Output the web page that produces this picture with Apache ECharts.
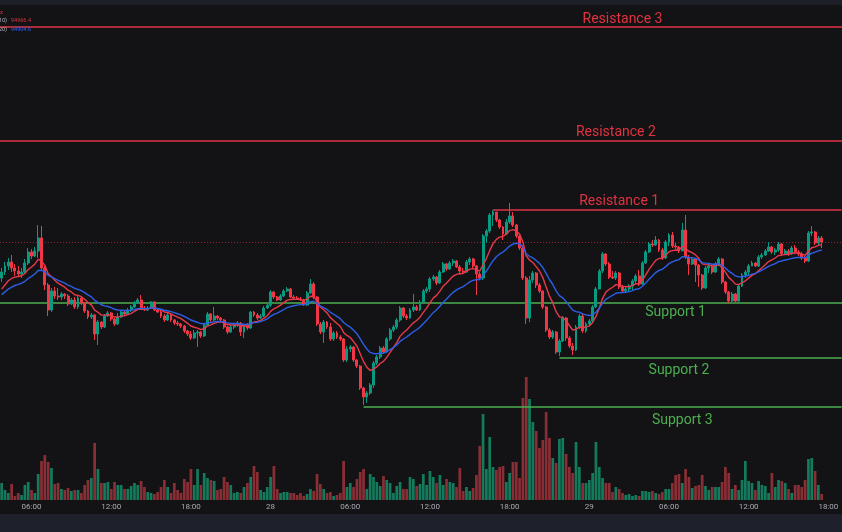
<!DOCTYPE html>
<html><head><meta charset="utf-8">
<script src="https://cdn.jsdelivr.net/npm/echarts/dist/echarts.min.js"></script>
<style>html,body{margin:0;padding:0;background:#131316}#c{width:842px;height:532px}</style>
</head><body><div id="c"></div><script>
// ---------- DATA (15-minute candles, 27 Nov 03:45 onward) ----------
const firstOpen = 94660;
const closes = [
94720,94780,94820,94760,94730,94700,94720,94810,94920,94880,
94930,95060,94760,94590,94340,94530,94480,94470,94500,94480,
94400,94440,94370,94460,94410,94330,94270,94290,94100,94220,
94170,94280,94310,94250,94200,94270,94320,94300,94340,94370,
94410,94440,94360,94340,94360,94420,94340,94320,94280,94240,
94290,94240,94210,94200,94180,94130,94100,94060,94110,94120,
94080,94190,94300,94240,94280,94260,94240,94170,94120,94170,
94190,94210,94120,94190,94160,94320,94290,94260,94280,94360,
94390,94520,94470,94440,94480,94530,94550,94470,94460,94450,
94440,94390,94510,94600,94470,94200,94120,94220,94170,94050,
94110,94070,94050,93840,93950,93970,93840,93780,93560,93470,
93510,93590,93810,93870,93960,93920,94050,94140,94170,94240,
94360,94280,94260,94340,94370,94340,94420,94530,94550,94650,
94670,94610,94720,94800,94750,94810,94830,94770,94730,94720,
94820,94850,94780,94700,94660,95080,95130,95290,95320,95240,
95170,95100,95220,95280,95190,95080,94960,94660,94260,94640,
94710,94590,94530,94370,94140,94070,94120,93920,94030,94260,
94060,93980,93940,94170,94280,94130,94200,94230,94370,94550,
94730,94900,94800,94670,94660,94710,94570,94530,94550,94580,
94630,94680,94600,94810,94920,95000,94990,95040,94940,94860,
95020,95090,94980,94970,94930,95140,94870,94800,94850,94790,
94690,94560,94760,94780,94720,94800,94850,94620,94520,94430,
94500,94430,94580,94690,94720,94780,94810,94780,94870,94890,
94930,94970,94920,94940,95000,94900,94930,94900,94960,94920,
94900,94860,94830,95110,95120,95010,95060,95020];
const highs = [
94760,94820,94860,94890,94800,94780,94760,94850,94960,94950,
94970,95190,95180,94790,94610,94560,94570,94560,94520,94510,
94500,94460,94470,94480,94470,94420,94340,94310,94300,94240,
94230,94300,94330,94320,94260,94310,94340,94330,94360,94390,
94430,94460,94490,94380,94380,94430,94430,94350,94340,94300,
94310,94310,94250,94230,94210,94190,94140,94130,94140,94140,
94130,94210,94320,94310,94370,94290,94270,94250,94180,94190,
94200,94230,94220,94200,94210,94330,94330,94310,94300,94380,
94400,94540,94530,94480,94500,94550,94570,94560,94490,94480,
94470,94450,94530,94650,94620,94480,94220,94240,94230,94210,
94130,94130,94090,94060,93980,93990,93980,93850,93790,93570,
93530,93610,93830,93890,93980,93980,94070,94160,94190,94260,
94380,94370,94300,94360,94500,94390,94440,94550,94570,94670,
94690,94680,94740,94820,94810,94830,94850,94840,94790,94760,
94840,94870,94860,94790,94720,95100,95150,95310,95340,95320,
95250,95180,95250,95410,95320,95200,95090,94990,94680,94680,
94730,94720,94610,94540,94380,94160,94140,94130,94050,94280,
94270,94080,94010,94190,94300,94310,94220,94250,94390,94570,
94750,94920,94910,94820,94730,94730,94720,94590,94570,94600,
94650,94700,94740,94830,94940,95020,95040,95080,95050,94960,
95040,95110,95120,95010,94980,95210,95290,94890,94870,94860,
94800,94700,94780,94800,94790,94820,94870,94860,94630,94530,
94520,94510,94600,94710,94740,94800,94830,94820,94890,94910,
94950,95020,94980,94960,95020,95010,94950,94950,94980,94990,
94940,94920,94880,95130,95180,95130,95080,95080];
const lows = [
94620,94690,94740,94720,94680,94670,94660,94700,94790,94850,
94870,94860,94740,94540,94280,94320,94450,94440,94440,94450,
94380,94390,94350,94350,94390,94310,94250,94250,94040,93990,
94150,94160,94270,94230,94180,94190,94260,94280,94290,94320,
94360,94400,94350,94330,94330,94350,94330,94310,94260,94220,
94230,94220,94190,94180,94160,94110,94080,94040,94050,93970,
94060,94070,94180,94220,94230,94240,94230,94150,94100,94110,
94150,94170,94080,94060,94140,94150,94270,94240,94250,94270,
94350,94370,94450,94430,94430,94470,94520,94460,94450,94440,
94430,94380,94380,94500,94450,94180,94100,94010,94150,94030,
94030,94050,94030,93820,93820,93920,93820,93760,93540,93390,
93410,93490,93560,93790,93850,93900,93910,94030,94120,94150,
94220,94260,94240,94250,94320,94330,94330,94400,94510,94520,
94630,94590,94600,94710,94730,94740,94780,94760,94710,94700,
94710,94790,94760,94490,94640,94640,95010,95110,95180,95220,
95150,95040,95090,95200,95170,95060,94940,94640,94200,94220,
94610,94560,94510,94350,94120,94050,94050,93900,93880,94020,
94030,93960,93890,93930,94150,94110,94110,94180,94220,94360,
94550,94710,94780,94650,94650,94640,94550,94510,94510,94520,
94540,94600,94580,94590,94800,94910,94970,94980,94920,94840,
94850,94980,94960,94950,94910,94930,94850,94690,94790,94620,
94570,94540,94550,94710,94700,94710,94780,94600,94500,94410,
94410,94410,94420,94570,94660,94690,94780,94770,94770,94850,
94880,94920,94900,94890,94920,94880,94890,94880,94890,94900,
94880,94840,94810,94820,95080,94990,94990,94960];
const volumes = [
17,10,7,16,4,7,5,15,18,10,
7,26,39,45,38,32,16,17,11,10,
12,9,10,10,7,15,20,22,57,31,
17,17,18,11,18,15,15,11,11,14,
17,15,19,13,8,7,6,8,13,20,
13,7,17,10,7,21,18,31,15,31,
15,27,22,20,19,10,11,23,18,15,
7,8,7,13,17,23,34,28,10,8,
13,23,34,11,7,8,8,7,7,5,
7,4,6,11,9,26,16,11,7,8,
4,5,7,39,13,17,13,21,28,31,
11,26,23,18,14,24,20,17,7,14,
18,11,11,23,21,14,16,26,15,29,
23,17,25,15,21,18,17,13,32,9,
13,9,12,25,54,86,31,63,33,30,
33,34,18,27,38,38,22,102,123,101,
78,69,52,60,88,62,42,37,61,62,
46,33,27,58,33,17,17,20,27,58,
33,22,17,17,8,13,11,7,5,6,
4,5,4,9,9,8,9,7,6,8,
11,11,17,25,26,17,31,23,12,14,
15,25,14,10,13,13,13,18,33,27,
11,15,10,20,39,19,17,10,19,15,
14,7,27,13,20,19,17,11,7,15,
15,13,20,41,42,29,15,6];
const emaFastPeriod = 10, emaSlowPeriod = 20;
const emaFastPrev = 94510, emaSlowPrev = 94470;   // indicator values before the first visible candle
const legendFast = '94966.4', legendSlow = '94904.6';
const levelNames  = ['Resistance 3','Resistance 2','Resistance 1','Support 1','Support 2','Support 3'];
const levelPrices = [97170, 96030, 95340, 94410, 93860, 93370];
const levelStart  = [0, 0, 148, 0, 168, 109];   // candle where each level begins (0 = whole range)
const startDay = 27, startMinute = 3*60+45, stepMinutes = 15, slotCount = 254;

// ---------- BUILD ----------
const categories = [];
for (let i = 0; i < slotCount; i++) {
  const m = startMinute + i*stepMinutes;
  const d = startDay + Math.floor(m/1440), mm = m % 1440;
  const hh = Math.floor(mm/60), mi = mm % 60;
  categories.push(d + ' ' + String(hh).padStart(2,'0') + ':' + String(mi).padStart(2,'0'));
}
const opens = closes.map((c,i) => i === 0 ? firstOpen : closes[i-1]);
const ohlc = closes.map((c,i) => [opens[i], c, lows[i], highs[i]]);
function ema(src, period, prev) {
  const a = 2/(period+1); let e = prev;
  return src.map(v => { e = e + a*(v-e); return +e.toFixed(1); });
}
const emaFast = ema(closes, emaFastPeriod, emaFastPrev);
const emaSlow = ema(closes, emaSlowPeriod, emaSlowPrev);
const UP = '#089981', DOWN = '#f23645';
const volData = volumes.map((v,i) => ({ value: v, itemStyle: { color: closes[i] >= opens[i] ? '#137a5b' : '#8a2e35' } }));

const RES = '#dc3444', SUP = '#4caf50';
const labelAt = [187, 185, 186, 203, 204, 205];
const labelDy = [-8, -9, -9, 9, 12, 13];
const lastIdx = slotCount - 1;
const levelLines = levelNames.map((n,i) => {
  const ls = { color: i < 3 ? RES : SUP, width: 1.5, type: 'solid' };
  if (levelStart[i] === 0) return { yAxis: levelPrices[i], lineStyle: ls };
  return [
    { coord: [levelStart[i], levelPrices[i]], lineStyle: ls },
    { coord: [lastIdx, levelPrices[i]], lineStyle: ls }
  ];
});
const levelLabels = levelNames.map((n,i) => ({
  coord: [labelAt[i], levelPrices[i]], symbolSize: 0,
  label: { show: true, formatter: n, position: 'inside', offset: [0, labelDy[i]],
    color: i < 3 ? '#e0323f' : '#4caf50', fontSize: 14, fontFamily: 'Roboto' }
}));

function isTick(idx) {
  const m = (startMinute + idx*stepMinutes) % 1440;
  return m % 360 === 0;
}
const chart = echarts.init(document.getElementById('c'), null, { renderer: 'canvas' });
chart.setOption({
  animation: false,
  backgroundColor: '#131316',
  grid: [
    { left: 0, top: 5, width: slotCount*3.32, height: 508, outerBoundsMode: 'none' },
    { left: 0, top: 375, width: slotCount*3.32, height: 125, outerBoundsMode: 'none' }
  ],
  xAxis: [
    { type: 'category', data: categories, gridIndex: 0, boundaryGap: true, show: false },
    { type: 'category', data: categories, gridIndex: 1, boundaryGap: true,
      axisLine: { show: false }, axisTick: { show: false }, splitLine: { show: false },
      axisLabel: { color: '#a9acb5', fontSize: 8, margin: 3, fontFamily: 'Roboto',
        alignMaxLabel: 'center', alignMinLabel: 'center',
        interval: (idx) => isTick(idx),
        formatter: (v) => { const [d, t] = v.split(' '); return t === '00:00' ? d : t; } } }
  ],
  yAxis: [
    { type: 'value', gridIndex: 0, min: 92310, max: 97390, show: false, splitLine: { show: false } },
    { type: 'value', gridIndex: 1, min: 0, max: 125, show: false, splitLine: { show: false } }
  ],
  graphic: [
    { type: 'rect', shape: { x: 0, y: 0, width: 842, height: 5 }, style: { fill: '#1e2029' }, z: 100 },
    { type: 'rect', shape: { x: 0, y: 514, width: 842, height: 18 }, style: { fill: '#1e212b' }, z: 100 },
    { type: 'text', x: 0, y: 9, style: { text: 'x', fill: '#d93444', fontSize: 6, fontFamily: 'Roboto' }, z: 100 },
    { type: 'text', x: 7, y: 18, style: { text: 'EMA (10)', fill: '#b2b5be', fontSize: 5.5, align: 'right', fontFamily: 'Roboto' }, z: 100 },
    { type: 'text', x: 11, y: 18, style: { text: legendFast, fill: '#e0323f', fontSize: 5.5, fontFamily: 'Roboto' }, z: 100 },
    { type: 'text', x: 7, y: 27, style: { text: 'EMA (20)', fill: '#b2b5be', fontSize: 5.5, align: 'right', fontFamily: 'Roboto' }, z: 100 },
    { type: 'text', x: 11, y: 27, style: { text: legendSlow, fill: '#2962ff', fontSize: 5.5, fontFamily: 'Roboto' }, z: 100 }
  ],
  series: [
    { type: 'bar', name: 'Volume', xAxisIndex: 1, yAxisIndex: 1, data: volData, barWidth: '82%', z: 1 },
    { type: 'candlestick', name: 'Price', xAxisIndex: 0, yAxisIndex: 0, data: ohlc, barWidth: '74%', z: 5,
      itemStyle: { color: UP, color0: DOWN, borderColor: UP, borderColor0: DOWN, borderWidth: 1 },
      markLine: { silent: true, symbol: 'none', label: { show: false }, animation: false,
        data: [ ...levelLines,
          { yAxis: closes[closes.length-1], lineStyle: { color: 'rgba(242,54,69,0.55)', width: 1, type: [1,2] } } ] },
      markPoint: { silent: true, symbol: 'circle', data: levelLabels, animation: false }
    },
    { type: 'line', name: 'EMA fast', xAxisIndex: 0, yAxisIndex: 0, data: emaFast, showSymbol: false, z: 6,
      lineStyle: { color: '#e8394a', width: 1.4 } },
    { type: 'line', name: 'EMA slow', xAxisIndex: 0, yAxisIndex: 0, data: emaSlow, showSymbol: false, z: 6,
      lineStyle: { color: '#2c5fe8', width: 1.4 } }
  ]
});
</script></body></html>
